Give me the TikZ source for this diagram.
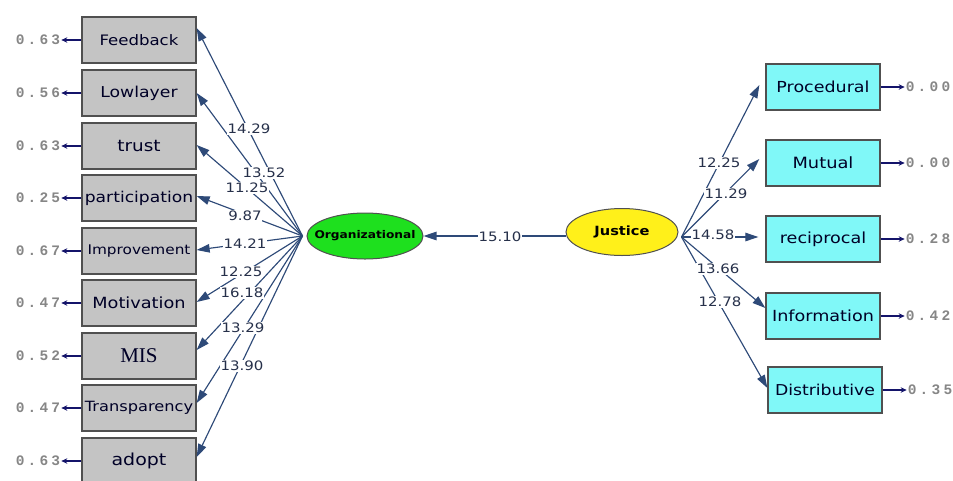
\documentclass[tikz,border=0pt]{standalone}
\usepackage{fontspec}
\setmainfont{DejaVu Sans}[FakeStretch=1.15]
\newfontfamily\monof{Liberation Mono}[LetterSpace=22]
\newfontfamily\misf{Liberation Serif}
\usetikzlibrary{arrows.meta,shapes.geometric}
\definecolor{arr}{HTML}{2E4A78}
\definecolor{errc}{HTML}{14146A}
\definecolor{lab}{HTML}{26304A}
\definecolor{boxg}{HTML}{C4C4C4}
\definecolor{cyanb}{HTML}{80F8F8}
\definecolor{bord}{HTML}{505050}
\definecolor{grn}{HTML}{1EE01E}
\definecolor{yel}{HTML}{FFF01A}
\newcommand{\fs}[1]{\fontsize{#1}{#1}\selectfont}
\begin{document}
\begin{tikzpicture}[x=1pt,y=-1pt,
  obs/.style={draw=bord,line width=1.3pt,fill=boxg,minimum width=114pt,minimum height=46pt,inner sep=0pt,text=black!85!blue},
  obsr/.style={obs,fill=cyanb},
  lat/.style={ellipse,draw=bord,line width=1pt,minimum width=116pt,minimum height=46pt,inner sep=0pt,font=\bfseries},
  load/.style={draw=arr,line width=1.15pt,-{Triangle[length=13pt,width=8.5pt]}},
  val/.style={fill=white,inner sep=0.6pt,text=lab,font=\fs{13}},
  errl/.style={font=\monof\bfseries\fs{14.5},text=gray!95,inner sep=1pt},
  erra/.style={draw=errc,line width=1.8pt,-{Stealth[length=6pt,width=5.5pt]}}]
\useasboundingbox (0,0) rectangle (953,480);

% left observed variables
\node[obs,font=\fs{14.4}] (fb) at (139,40) {Feedback};
\node[obs,font=\fs{15}] (ll) at (139,93) {Lowlayer};
\node[obs,font=\fs{16}] (tr) at (139,146) {trust};
\node[obs,font=\fs{14.9}] (pa) at (139,198) {participation};
\node[obs,font=\fs{13.3}] (im) at (139,251) {Improvement};
\node[obs,font=\fs{15.4}] (mo) at (139,303) {Motivation};
\node[obs,font=\misf\fs{21}] (mi) at (139,356) {MIS};
\node[obs,font=\fs{14.1}] (tp) at (139,408) {Transparency};
\node[obs,font=\fs{16.5}] (ad) at (139,461) {adopt};

% right observed variables
\node[obsr,font=\fs{15.2}] (pr) at (823,87) {Procedural};
\node[obsr,font=\fs{15.5}] (mu) at (823,163) {Mutual};
\node[obsr,font=\fs{15.3}] (re) at (823,239) {reciprocal};
\node[obsr,font=\fs{15.3}] (in) at (823,316) {Information};
\node[obsr,font=\fs{15}] (di) at (825,390) {Distributive};

% latent variables
\node[lat,fill=grn,inner xsep=-16pt,font=\bfseries\fs{10.6}] (org) at (365,236) {Organizational};
\node[lat,fill=yel,minimum width=112pt,minimum height=47pt,font=\bfseries\fs{12.7}] (just) at (622,232) {Justice};

% error terms
\foreach \n/\v in {fb/0.63,ll/0.56,tr/0.63,pa/0.25,im/0.67,mo/0.47,mi/0.52,tp/0.47,ad/0.63}{
  \node[errl,anchor=east] (e\n) at ([xshift=-20pt]\n.west) {\v};
  \draw[erra] (\n.west) -- (e\n.east);
}
\foreach \n/\v in {pr/0.00,mu/0.00,re/0.28,in/0.42,di/0.35}{
  \node[errl,anchor=west] (e\n) at ([xshift=24pt]\n.east) {\v};
  \draw[erra] (\n.east) -- (e\n.west);
}

% loadings
\coordinate (oc) at ([xshift=-4pt]org.west);
\coordinate (jc) at ([xshift=3pt,yshift=-5pt]just.east);
\draw[load] (oc) -- ([yshift=12pt]fb.east);
\draw[load] (oc) -- (ll.east);
\draw[load] (oc) -- ([yshift=1pt]tr.east);
\draw[load] (oc) -- ([yshift=2pt]pa.east);
\draw[load] (oc) -- ([yshift=1pt]im.east);
\draw[load] (oc) -- ([yshift=1pt]mo.east);
\draw[load] (oc) -- ([yshift=6pt]mi.east);
\draw[load] (oc) -- ([yshift=5pt]tp.east);
\draw[load] (oc) -- ([yshift=4pt]ad.east);

\draw[load] (jc) -- ([xshift=-6pt,yshift=2pt]pr.west);
\draw[load] (jc) -- ([xshift=-6pt,yshift=4pt]mu.west);
\draw[load] (jc) -- ([xshift=-7pt,yshift=2pt]re.west);
\draw[load] (jc) -- ([yshift=8pt]in.west);
\draw[load] (jc) -- ([yshift=2pt]di.west);

\draw[load] (org.east -| just.west) -- (org.east);

% values
\node[val] (v1) at (249,129) {14.29};
\node[val] (v2) at (264,173) {13.52};
\node[val] (v3) at (247,188) {11.25};
\node[val] (v4) at (245,216) {9.87};
\node[val] (v5) at (245,244) {14.21};
\node[val] (v6) at (241,272) {12.25};
\node[val] (v7) at (242,293) {16.18};
\node[val] (v8) at (243,328) {13.29};
\node[val] (v9) at (242,366) {13.90};
\node[val] (v10) at (500,237) {15.10};
\node[val] (r1) at (719,163) {12.25};
\node[val] (r2) at (726,194) {11.29};
\node[val] (r3) at (713,235) {14.58};
\node[val] (r4) at (718,269) {13.66};
\node[val] (r5) at (720,302) {12.78};
\end{tikzpicture}
\end{document}
